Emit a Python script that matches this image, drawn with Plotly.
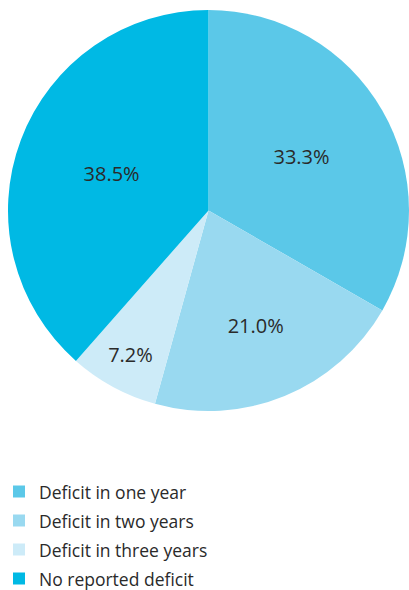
import plotly.graph_objects as go

labels = ["Deficit in one year", "Deficit in two years", "Deficit in three years", "No reported deficit"]
values = [33.3, 21.0, 7.2, 38.5]
colors = ["#5BC8E8", "#99D9F0", "#CDEBF8", "#00B9E4"]

W, H = 409, 590
L = 8
PW = W - L

fig = go.Figure(go.Pie(
    labels=[f"<span style='font-size:17.5px'>{l}</span>" for l in labels],
    values=values,
    sort=False,
    direction="clockwise",
    rotation=0,
    marker=dict(colors=colors, line=dict(width=0)),
    texttemplate="%{value:.1f}%",
    textposition="inside",
    insidetextorientation="horizontal",
    textfont=dict(size=20, color="#2a2a2a", family="Open Sans"),
    domain=dict(x=[0, 1], y=[(H - 411) / H, (H - 10) / H]),
    hoverinfo="label+percent",
))

fig.update_layout(
    width=W, height=H,
    margin=dict(l=L, r=0, t=0, b=0, autoexpand=False),
    paper_bgcolor="white",
    font=dict(family="Open Sans", color="#2a2a2a"),
    showlegend=True,
    legend=dict(
        x=-(L + 1) / PW, xanchor="left",
        y=(H - 472) / H, yanchor="top",
        font=dict(size=20, family="Open Sans", color="#2a2a2a"),
        bgcolor="rgba(0,0,0,0)",
    ),
)

fig.write_html("out.html")
